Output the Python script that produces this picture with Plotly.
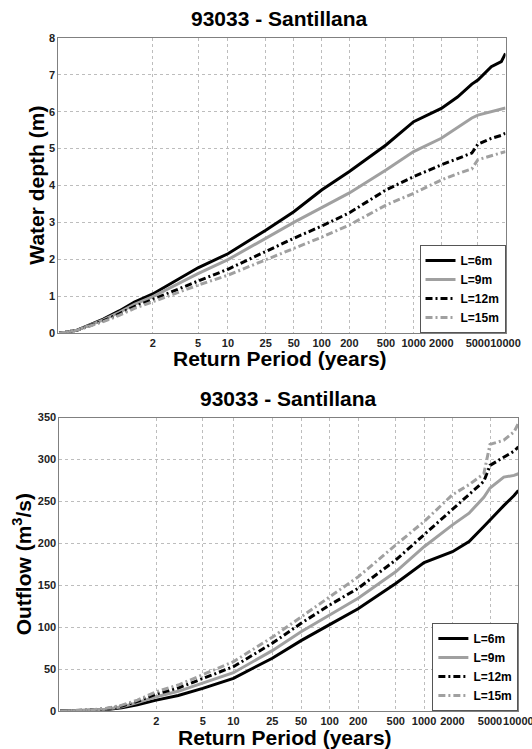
import numpy as np
import plotly.graph_objects as go
from plotly.subplots import make_subplots

# return periods (years) at which the curves were read
return_period = [1.0007, 1.002, 1.01, 1.03, 1.1, 1.25, 1.5, 2, 3, 5, 10, 25, 50, 100,
                 200, 500, 1000, 2000, 3000, 4300, 5000, 7000, 9000, 10000]

# water depth (m)
depth_L6 = [0, 0.02, 0.08, 0.20, 0.38, 0.60, 0.84, 1.06, 1.40, 1.77, 2.15, 2.79, 3.29, 3.88,
            4.38, 5.10, 5.73, 6.09, 6.40, 6.75, 6.86, 7.22, 7.36, 7.58]
depth_L9 = [0, 0.02, 0.08, 0.19, 0.36, 0.56, 0.78, 0.99, 1.29, 1.61, 1.99, 2.57, 3.00, 3.40,
            3.80, 4.42, 4.92, 5.28, 5.56, 5.83, 5.91, 6.00, 6.07, 6.10]
depth_L12 = [0, 0.02, 0.08, 0.18, 0.33, 0.52, 0.72, 0.91, 1.15, 1.41, 1.73, 2.21, 2.57, 2.90,
             3.26, 3.88, 4.24, 4.56, 4.72, 4.88, 5.12, 5.28, 5.36, 5.42]
depth_L15 = [0, 0.02, 0.08, 0.17, 0.31, 0.48, 0.67, 0.85, 1.07, 1.30, 1.57, 1.98, 2.30, 2.60,
             2.93, 3.47, 3.79, 4.15, 4.32, 4.45, 4.70, 4.80, 4.88, 4.92]

# outflow (m3/s)
outflow_L6 = [0, 0.1, 0.3, 0.7, 1.6, 4, 7.5, 13, 18.5, 27, 39, 63, 84, 103,
              122, 152, 177, 190, 202, 220, 228, 245, 257, 263]
outflow_L9 = [0, 0.1, 0.4, 1.0, 2.2, 5, 10, 17, 23.5, 33, 45.7, 72, 94.6, 114.5,
              134.4, 166, 196, 222, 236, 255, 266, 279, 281, 283]
outflow_L12 = [0, 0.1, 0.4, 1.1, 2.6, 6, 11.5, 20.3, 27.5, 39, 52.9, 80.8, 104.6, 126.4,
               146.4, 180, 210, 240, 258, 274, 293, 303, 310, 315]
outflow_L15 = [0, 0.1, 0.5, 1.3, 3, 7, 13, 23, 31, 43, 58.8, 88, 112.5, 136,
               160, 198, 226, 258, 270, 283, 318, 323, 333, 343]

series_names = ["L=6m", "L=9m", "L=12m", "L=15m"]
tick_periods = [2, 5, 10, 25, 50, 100, 200, 500, 1000, 2000, 5000, 10000]


def gumbel(T):
    # Gumbel reduced variate used as the x scale
    T = np.asarray(T, dtype=float)
    return -np.log(-np.log(1.0 - 1.0 / T))


FONT = "Liberation Sans, Arial, sans-serif"
GRAY = "#a0a0a0"
styles = [("black", "solid"), (GRAY, "solid"),
          ("black", "7px,3px,2px,3px"), (GRAY, "7px,3px,2px,3px")]

x = gumbel(return_period)

fig = make_subplots(rows=2, cols=1)

for i, (vals, (col, dash)) in enumerate(zip([depth_L6, depth_L9, depth_L12, depth_L15], styles)):
    fig.add_trace(go.Scatter(x=x, y=vals, mode="lines", name=series_names[i],
                             line=dict(color=col, width=3, dash=dash),
                             legend="legend"), row=1, col=1)

for i, (vals, (col, dash)) in enumerate(zip([outflow_L6, outflow_L9, outflow_L12, outflow_L15], styles)):
    fig.add_trace(go.Scatter(x=x, y=vals, mode="lines", name=series_names[i],
                             line=dict(color=col, width=3, dash=dash),
                             legend="legend2"), row=2, col=1)

axis_common = dict(showgrid=True, gridcolor="#bdbdbd", griddash="dot", gridwidth=1,
                   zeroline=False, showline=True, mirror=True, linecolor="#808080",
                   linewidth=1, ticks="", ticklen=0, automargin=False,
                   tickfont=dict(family=FONT, size=11, color="#222", weight="bold"))

xr = [-2, float(gumbel([10000])[0])]
tv = gumbel(tick_periods)
tt = [str(t) for t in tick_periods]

fig.update_xaxes(axis_common, range=xr, tickmode="array", tickvals=tv, ticktext=tt,
                 tickangle=0, ticklabeloverflow="allow")
fig.update_yaxes(axis_common)

fig.update_layout(
    width=532, height=749,
    margin=dict(l=0, r=0, t=0, b=0, pad=0),
    plot_bgcolor="white", paper_bgcolor="white",
    xaxis=dict(domain=[0.1098, 0.9502]),
    yaxis=dict(domain=[0.5553, 0.9493], range=[0, 8], tickmode="linear", dtick=1),
    xaxis2=dict(domain=[0.1117, 0.9744]),
    yaxis2=dict(domain=[0.0507, 0.4425], range=[0, 350], tickmode="linear", dtick=50),
    legend=dict(x=0.9502, y=0.5553, xanchor="right", yanchor="bottom",
                bgcolor="white", bordercolor="#555", borderwidth=1,
                font=dict(family=FONT, size=12, color="black", weight="bold"),
                itemwidth=30, tracegroupgap=0),
    legend2=dict(x=0.9744, y=0.0507, xanchor="right", yanchor="bottom",
                 bgcolor="white", bordercolor="#555", borderwidth=1,
                 font=dict(family=FONT, size=12, color="black", weight="bold"),
                 itemwidth=30, tracegroupgap=0),
    showlegend=True,
)

title_font = dict(family=FONT, size=21, color="black", weight="bold")
annots = [
    dict(text="93033 - Santillana", x=0.526, y=0.975),
    dict(text="Return Period (years)", x=0.526, y=0.522),
    dict(text="Water depth (m)", x=0.067, y=0.753, textangle=-90),
    dict(text="93033 - Santillana", x=0.542, y=0.4677),
    dict(text="Return Period (years)", x=0.536, y=0.016),
    dict(text="Outflow (m<sup>3</sup>/s)", x=0.042, y=0.247, textangle=-90),
]
for a in annots:
    fig.add_annotation(xref="paper", yref="paper", showarrow=False,
                       xanchor="center", yanchor="middle", font=title_font, **a)

fig.write_html("out.html", config={"displayModeBar": False},
               post_script="document.body.style.margin='0';")
